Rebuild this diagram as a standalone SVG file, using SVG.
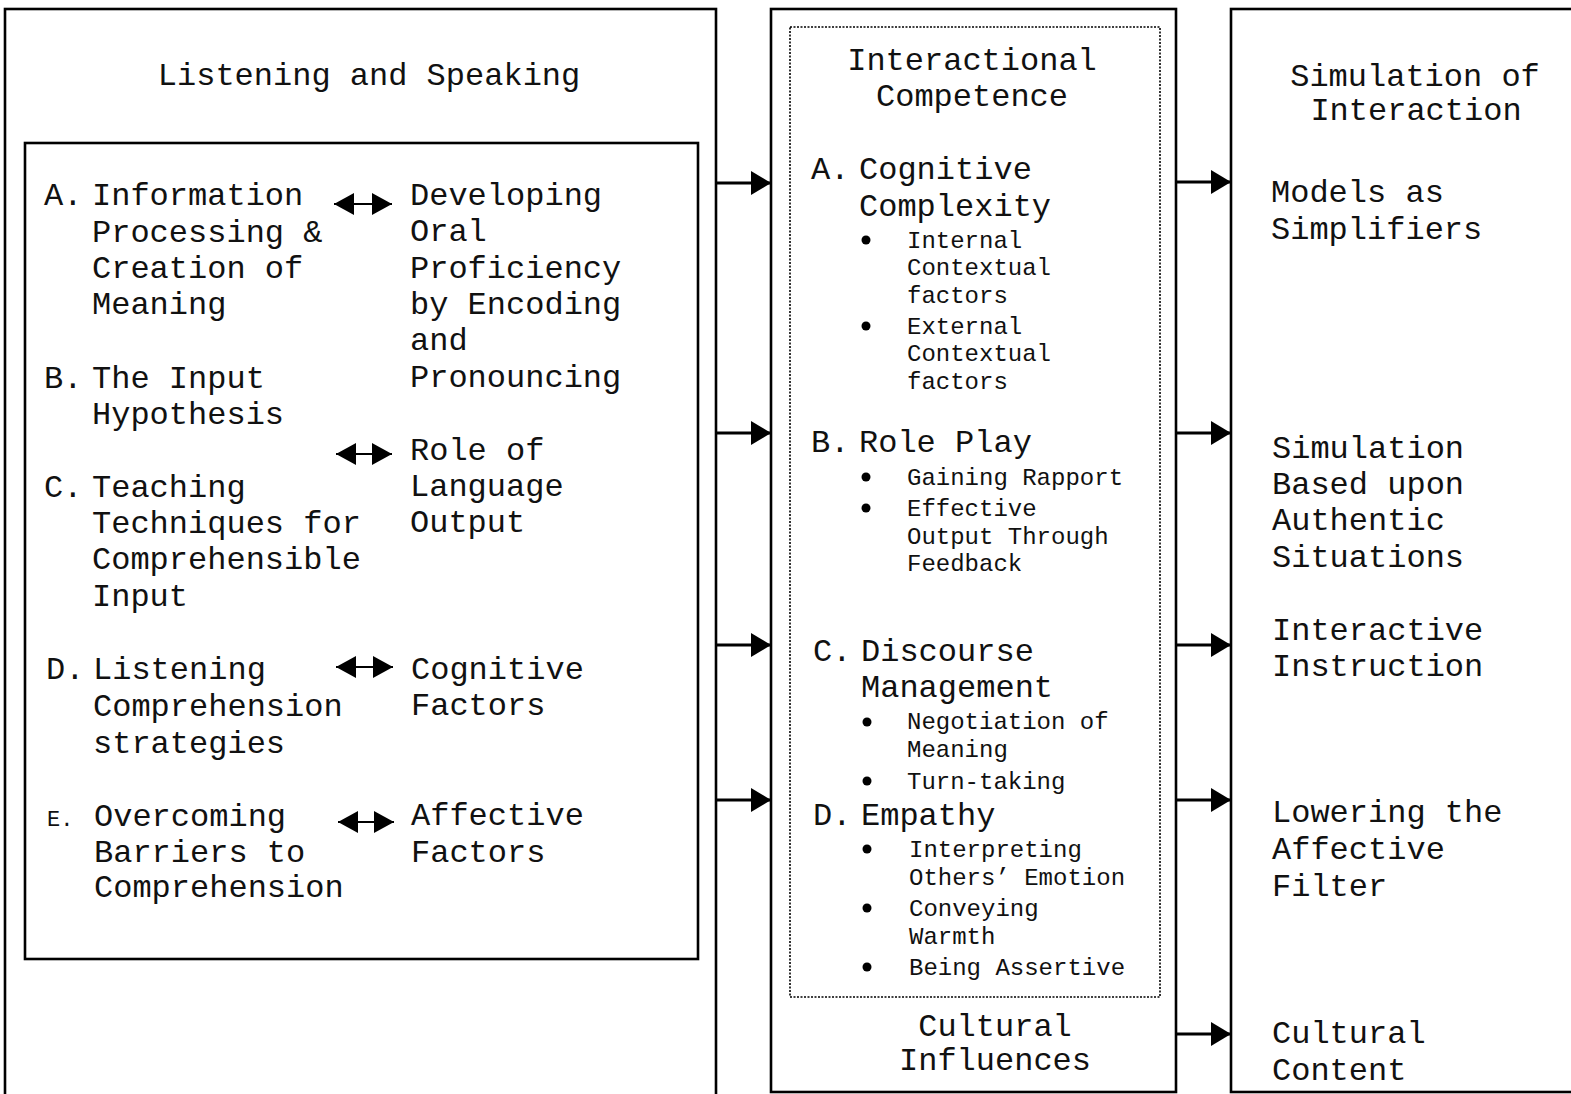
<svg xmlns="http://www.w3.org/2000/svg" width="1571" height="1094" viewBox="0 0 1571 1094">
<style>
.box{fill:none;stroke:#000;stroke-width:2.6}
.dot{fill:none;stroke:#000;stroke-width:1.6;stroke-dasharray:2 1.5}
.t{font-family:"Liberation Mono","Courier New",monospace;font-size:32px;fill:#111}
.s{font-family:"Liberation Mono","Courier New",monospace;font-size:24px;fill:#111}
.e{font-family:"Liberation Mono","Courier New",monospace;font-size:22px;fill:#111}
.c{text-anchor:middle}
.arr{stroke:#000;stroke-width:3;fill:none}
.dbl{stroke:#000;stroke-width:2;fill:none}
.b{fill:#000}
</style>
<defs>
<marker id="ah" markerUnits="userSpaceOnUse" viewBox="0 0 20 24" refX="20" refY="12" markerWidth="20" markerHeight="24" orient="auto-start-reverse">
<path d="M0,0 L20,12 L0,24 z" fill="#000"/>
</marker>
<marker id="dh" markerUnits="userSpaceOnUse" viewBox="0 0 20 22" refX="20" refY="11" markerWidth="20" markerHeight="22" orient="auto-start-reverse">
<path d="M0,0 L20,11 L0,22 z" fill="#000"/>
</marker>
</defs>
<rect width="1571" height="1094" fill="#fff"/>

<g id="listening-speaking">
<rect class="box" x="5" y="9" width="711" height="1100"/>
<text class="t c" x="369" y="85">Listening and Speaking</text>
<rect class="box" x="25" y="143" width="673" height="816"/>
<g id="left-col">
<text class="t" x="44" y="205">A.</text>
<text class="t" x="92" y="205">Information</text>
<text class="t" x="92" y="242">Processing &amp;</text>
<text class="t" x="92" y="278">Creation of</text>
<text class="t" x="92" y="314">Meaning</text>
<text class="t" x="44" y="388">B.</text>
<text class="t" x="92" y="388">The Input</text>
<text class="t" x="92" y="424">Hypothesis</text>
<text class="t" x="44" y="497">C.</text>
<text class="t" x="92" y="497">Teaching</text>
<text class="t" x="92" y="533">Techniques for</text>
<text class="t" x="92" y="569">Comprehensible</text>
<text class="t" x="92" y="606">Input</text>
<text class="t" x="46" y="679">D.</text>
<text class="t" x="93" y="679">Listening</text>
<text class="t" x="93" y="716">Comprehension</text>
<text class="t" x="93" y="753">strategies</text>
<text class="e" x="47" y="826">E.</text>
<text class="t" x="94" y="826">Overcoming</text>
<text class="t" x="94" y="862">Barriers to</text>
<text class="t" x="94" y="897">Comprehension</text>
</g>
<g id="right-col">
<text class="t" x="410" y="205">Developing</text>
<text class="t" x="410" y="241">Oral</text>
<text class="t" x="410" y="278">Proficiency</text>
<text class="t" x="410" y="314">by Encoding</text>
<text class="t" x="410" y="350">and</text>
<text class="t" x="410" y="387">Pronouncing</text>
<text class="t" x="410" y="460">Role of</text>
<text class="t" x="410" y="496">Language</text>
<text class="t" x="410" y="532">Output</text>
<text class="t" x="411" y="679">Cognitive</text>
<text class="t" x="411" y="715">Factors</text>
<text class="t" x="411" y="825">Affective</text>
<text class="t" x="411" y="862">Factors</text>
</g>
</g>

<g id="interactional-competence">
<rect class="box" x="771" y="9" width="405" height="1083"/>
<rect class="dot" x="790" y="27" width="370" height="970"/>
<text class="t c" x="972" y="70">Interactional</text>
<text class="t c" x="972" y="106">Competence</text>
<text class="t" x="811" y="179">A.</text>
<text class="t" x="859" y="179">Cognitive</text>
<text class="t" x="859" y="216">Complexity</text>
<circle class="b" cx="866" cy="240" r="4.5"/>
<text class="s" x="907" y="248">Internal</text>
<text class="s" x="907" y="275">Contextual</text>
<text class="s" x="907" y="303">factors</text>
<circle class="b" cx="866" cy="326" r="4.5"/>
<text class="s" x="907" y="334">External</text>
<text class="s" x="907" y="361">Contextual</text>
<text class="s" x="907" y="389">factors</text>
<text class="t" x="811" y="452">B.</text>
<text class="t" x="859" y="452">Role Play</text>
<circle class="b" cx="866" cy="477" r="4.5"/>
<text class="s" x="907" y="485">Gaining Rapport</text>
<circle class="b" cx="866" cy="508" r="4.5"/>
<text class="s" x="907" y="516">Effective</text>
<text class="s" x="907" y="544">Output Through</text>
<text class="s" x="907" y="571">Feedback</text>
<text class="t" x="813" y="661">C.</text>
<text class="t" x="861" y="661">Discourse</text>
<text class="t" x="861" y="697">Management</text>
<circle class="b" cx="867" cy="722" r="4.5"/>
<text class="s" x="907" y="729">Negotiation of</text>
<text class="s" x="907" y="757">Meaning</text>
<circle class="b" cx="867" cy="781" r="4.5"/>
<text class="s" x="907" y="789">Turn-taking</text>
<text class="t" x="813" y="825">D.</text>
<text class="t" x="861" y="825">Empathy</text>
<circle class="b" cx="867" cy="849" r="4.5"/>
<text class="s" x="909" y="857">Interpreting</text>
<text class="s" x="909" y="885">Others’ Emotion</text>
<circle class="b" cx="867" cy="908" r="4.5"/>
<text class="s" x="909" y="916">Conveying</text>
<text class="s" x="909" y="944">Warmth</text>
<circle class="b" cx="867" cy="967" r="4.5"/>
<text class="s" x="909" y="975">Being Assertive</text>
<text class="t c" x="995" y="1036">Cultural</text>
<text class="t c" x="995" y="1070">Influences</text>
</g>

<g id="simulation-of-interaction">
<rect class="box" x="1231" y="9" width="360" height="1083"/>
<text class="t c" x="1415" y="86">Simulation of</text>
<text class="t c" x="1416" y="120">Interaction</text>
<text class="t" x="1271" y="202">Models as</text>
<text class="t" x="1271" y="239">Simplifiers</text>
<text class="t" x="1272" y="458">Simulation</text>
<text class="t" x="1272" y="494">Based upon</text>
<text class="t" x="1272" y="530">Authentic</text>
<text class="t" x="1272" y="567">Situations</text>
<text class="t" x="1272" y="640">Interactive</text>
<text class="t" x="1272" y="676">Instruction</text>
<text class="t" x="1272" y="822">Lowering the</text>
<text class="t" x="1272" y="859">Affective</text>
<text class="t" x="1272" y="896">Filter</text>
<text class="t" x="1272" y="1043">Cultural</text>
<text class="t" x="1272" y="1080">Content</text>
</g>

<g id="connectors">
<line class="arr" x1="716" y1="183" x2="771" y2="183" marker-end="url(#ah)"/>
<line class="arr" x1="716" y1="433" x2="771" y2="433" marker-end="url(#ah)"/>
<line class="arr" x1="716" y1="645" x2="771" y2="645" marker-end="url(#ah)"/>
<line class="arr" x1="716" y1="800" x2="771" y2="800" marker-end="url(#ah)"/>
<line class="arr" x1="1176" y1="182" x2="1231" y2="182" marker-end="url(#ah)"/>
<line class="arr" x1="1176" y1="433" x2="1231" y2="433" marker-end="url(#ah)"/>
<line class="arr" x1="1176" y1="645" x2="1231" y2="645" marker-end="url(#ah)"/>
<line class="arr" x1="1176" y1="800" x2="1231" y2="800" marker-end="url(#ah)"/>
<line class="arr" x1="1176" y1="1034" x2="1231" y2="1034" marker-end="url(#ah)"/>
<line class="dbl" x1="334" y1="204" x2="392" y2="204" marker-start="url(#dh)" marker-end="url(#dh)"/>
<line class="dbl" x1="336" y1="454" x2="392" y2="454" marker-start="url(#dh)" marker-end="url(#dh)"/>
<line class="dbl" x1="336" y1="667" x2="393" y2="667" marker-start="url(#dh)" marker-end="url(#dh)"/>
<line class="dbl" x1="338" y1="822" x2="394" y2="822" marker-start="url(#dh)" marker-end="url(#dh)"/>
</g>
</svg>
